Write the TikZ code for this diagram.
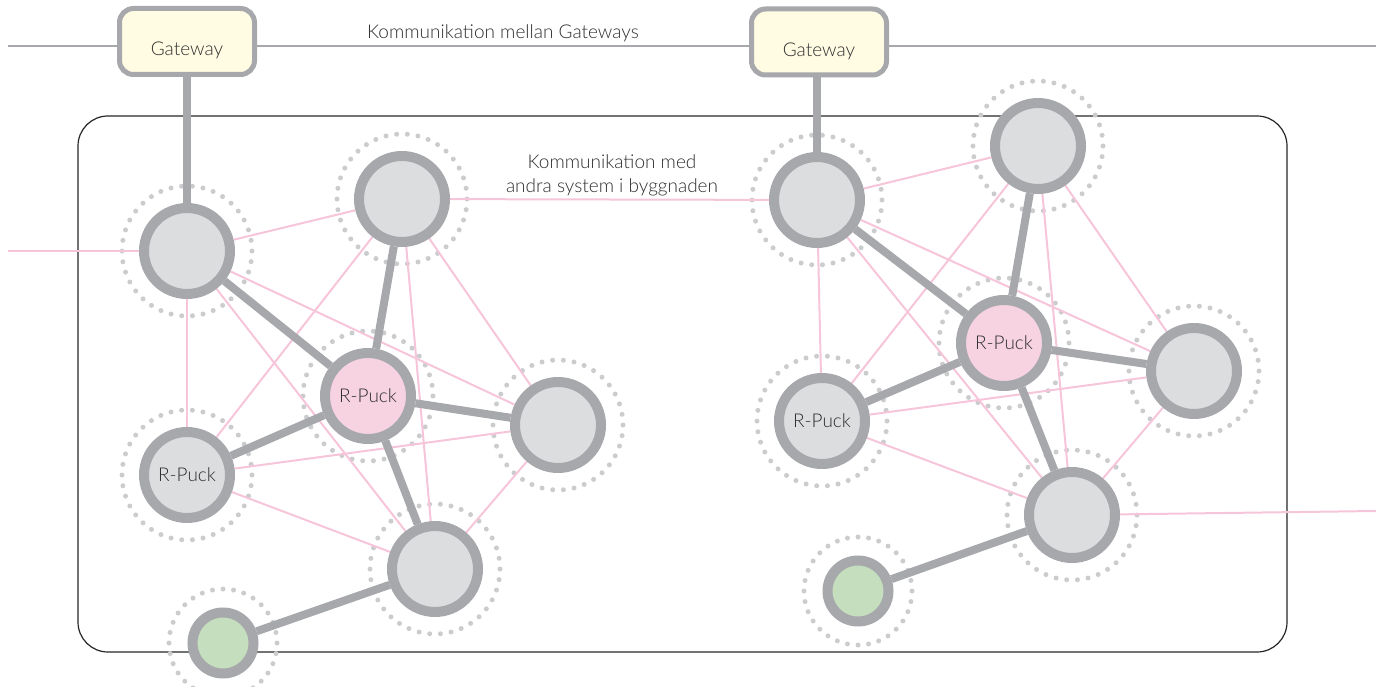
\documentclass[tikz,border=0pt]{standalone}
\usepackage{fontspec}
\setmainfont{Lato Light}
\pgfdeclarelayer{back}
\pgfdeclarelayer{mid}
\pgfsetlayers{back,mid,main}
\definecolor{gborder}{HTML}{A7A8AB}
\definecolor{nfill}{HTML}{DCDDDF}
\definecolor{pfill}{HTML}{F7D3E2}
\definecolor{gfill}{HTML}{C5DFBE}
\definecolor{yfill}{HTML}{FFFCE3}
\definecolor{pinkline}{HTML}{F7C5DA}
\definecolor{dotcol}{HTML}{CBCCCE}
\definecolor{txt}{HTML}{2E2E2E}
\tikzset{
  dev/.style={circle, minimum size=86pt, inner sep=0pt, line width=10pt, draw=gborder, fill=nfill, text=txt, font=\fontsize{19}{22}\selectfont},
  puck/.style={dev, fill=pfill},
  green/.style={dev, minimum size=61pt, fill=gfill},
  gw/.style={rectangle, rounded corners=14pt, minimum width=135pt, minimum height=66pt, inner sep=0pt, line width=5pt, draw=gborder, fill=yfill},
  gwtext/.style={text=txt, font=\fontsize{19}{22}\selectfont, yshift=-9pt},
  ring/.style={draw=dotcol, line width=5pt, line cap=round, dash pattern=on 0pt off 10.75pt},
  gring/.style={draw=dotcol, line width=5pt, line cap=round, dash pattern=on 0pt off 10.6pt},
  thick/.style={draw=gborder, line width=8pt},
  pink/.style={draw=pinkline, line width=2pt},
  lbl/.style={text=txt, font=\fontsize{19}{24}\selectfont, align=center}
}
\begin{document}
\begin{tikzpicture}[x=1pt,y=-1pt]
\useasboundingbox (0,0) rectangle (1384,687);
% nodes
\node[gw, label={[gwtext]center:Gateway}] (GW1) at (187,41.5) {};
\node[gw, label={[gwtext]center:Gateway}] (GW2) at (819,42) {};
\node[dev] (A) at (187,251) {};
\node[dev] (B) at (402,199) {};
\node[puck] (C) at (368,396) {R-Puck};
\node[dev] (D) at (558,425) {};
\node[puck, fill=nfill] (E) at (187,475) {R-Puck};
\node[dev] (F) at (435,569) {};
\node[green] (G) at (223,643) {};
\node[dev] (H) at (817,200) {};
\node[dev] (I) at (1038,146) {};
\node[puck] (J) at (1004,343) {R-Puck};
\node[dev] (K) at (1194,371) {};
\node[puck, fill=nfill] (L) at (822,421) {R-Puck};
\node[dev] (M) at (1072,515) {};
\node[green] (N) at (858,591) {};
\coordinate (lineL) at (8,46);
\coordinate (lineR) at (1376,46);
\coordinate (pinkL) at (8,251);
\coordinate (pinkR) at (1376,511);
\node[lbl] (t1) at (503,33) {Kommunikation mellan Gateways};
\node[lbl] (t2) at (612,175) {Kommunikation med\\andra system i byggnaden};
\begin{pgfonlayer}{back}
\draw[line width=1.2pt, draw=black!85, rounded corners=30pt] (78,116) rectangle (1287,652);
\draw[draw=gborder, line width=2.5pt] (lineL) -- (lineR);
\foreach \n in {A,B,C,D,E,F,H,I,J,K,L,M} \draw[ring] (\n.center) circle[radius=65pt];
\foreach \n in {G,N} \draw[gring] (\n.center) circle[radius=54pt];
% pink links left
\draw[pink] (pinkL) -- (A);
\draw[pink] (A) -- (B);
\draw[pink] (A) -- (E);
\draw[pink] (A) -- (D);
\draw[pink] (A) -- (F);
\draw[pink] (B) -- (E);
\draw[pink] (B) -- (F);
\draw[pink] (B) -- (D);
\draw[pink] (E) -- (D);
\draw[pink] (E) -- (F);
\draw[pink] (D) -- (F);
\draw[pink] (B) -- (H);
% pink links right
\draw[pink] (H) -- (I);
\draw[pink] (H) -- (L);
\draw[pink] (H) -- (K);
\draw[pink] (H) -- (M);
\draw[pink] (I) -- (L);
\draw[pink] (I) -- (M);
\draw[pink] (I) -- (K);
\draw[pink] (L) -- (K);
\draw[pink] (L) -- (M);
\draw[pink] (K) -- (M);
\draw[pink] (M) -- (pinkR);
\end{pgfonlayer}
\begin{pgfonlayer}{mid}
\draw[thick] (GW1) -- (A);
\draw[thick] (A) -- (C);
\draw[thick] (B) -- (C);
\draw[thick] (C) -- (E);
\draw[thick] (C) -- (D);
\draw[thick] (C) -- (F);
\draw[thick] (F) -- (G);
\draw[thick] (GW2.south -| H) -- (H);
\draw[thick] (H) -- (J);
\draw[thick] (I) -- (J);
\draw[thick] (J) -- (L);
\draw[thick] (J) -- (K);
\draw[thick] (J) -- (M);
\draw[thick] (M) -- (N);
\end{pgfonlayer}
\end{tikzpicture}
\end{document}
